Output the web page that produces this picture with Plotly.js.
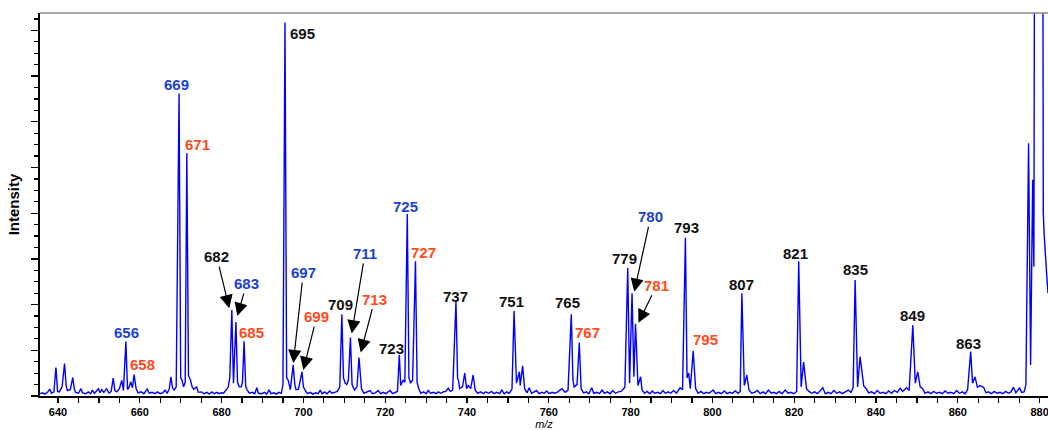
<!DOCTYPE html>
<html>
<head>
<meta charset="utf-8">
<script src="https://cdn.plot.ly/plotly-3.0.1.min.js"></script>
<style>html,body{margin:0;padding:0;background:#fff;}#chart{width:1048px;height:430px;}</style>
</head>
<body>
<div id="chart"></div>
<script>
// ---- Spectrum profile (m/z, relative intensity) ----
const spectrumMz = [
  635.6,636.2,636.8,637.4,638.0,638.4,639.0,639.5,639.9,640.3,641.0,641.6,642.0,642.3,643.0,643.6,644.0,644.3,645.0,645.6,
  646.0,646.8,647.4,648.0,648.4,648.9,649.9,650.3,650.7,651.2,651.9,652.5,653.0,653.5,653.9,654.4,655.0,655.6,656.0,656.6,
  657.0,657.4,657.8,658.2,658.6,659.1,659.6,660.3,661.0,661.8,662.3,663.0,663.7,664.3,665.0,665.6,666.2,666.7,667.2,667.6,
  668.0,668.4,668.9,669.6,670.0,670.3,670.7,671.1,671.5,671.9,672.4,672.8,673.2,673.9,674.3,675.1,675.7,676.4,677.0,677.6,
  678.2,678.8,679.4,680.0,680.5,681.0,681.6,682.0,682.5,682.9,683.5,683.9,684.3,684.8,685.1,685.5,685.9,686.2,686.8,687.5,
  688.1,688.6,689.0,689.8,690.5,691.0,691.6,692.1,692.8,693.4,694.0,694.6,695.0,695.5,695.9,696.3,696.8,697.5,697.9,698.2,
  698.8,699.65,700.0,700.4,701.0,701.7,702.3,703.0,703.6,704.1,704.6,705.2,705.8,706.4,707.0,707.6,708.3,708.9,709.4,709.8,
  710.2,710.6,711.0,711.5,711.9,712.5,713.1,713.6,714.0,714.2,714.8,715.4,716.3,716.9,717.6,718.3,718.9,719.5,720.2,720.7,
  721.2,721.8,722.4,723.0,723.45,723.8,724.4,724.8,725.4,725.8,726.2,726.7,727.4,727.8,728.2,728.7,729.4,730.0,730.5,731.1,
  731.8,732.4,733.0,733.6,734.2,734.8,735.4,735.9,736.5,737.3,737.7,737.9,738.2,738.9,739.45,739.9,740.3,740.9,741.5,742.0,
  742.6,743.3,744.0,744.6,745.3,746.0,746.6,747.3,748.0,748.5,749.1,749.7,750.3,751.0,751.5,751.9,752.1,752.8,753.0,753.6,
  754.1,754.7,755.2,755.8,756.4,757.0,757.6,758.2,758.9,759.5,760.1,760.8,761.5,762.2,763.2,764.0,764.7,765.5,765.9,766.2,
  766.9,767.45,767.9,768.5,769.2,769.8,770.5,771.0,771.7,772.4,773.0,773.6,774.3,775.0,775.6,776.3,777.0,777.7,778.6,779.3,
  779.75,780.35,780.8,781.2,781.8,782.45,782.8,783.4,784.0,784.7,785.3,785.9,786.6,787.3,787.9,788.5,789.2,789.8,790.5,791.2,
  792.1,792.7,793.4,793.8,794.2,794.6,795.3,795.9,796.5,797.2,797.9,798.5,799.2,800.2,800.8,801.5,802.2,802.9,803.6,804.2,
  804.9,805.6,806.3,806.8,807.2,807.8,808.4,808.95,809.6,810.3,811.0,811.7,812.4,813.0,813.7,814.4,815.0,815.7,816.3,817.0,
  817.8,818.5,819.2,819.9,820.6,821.1,821.7,822.3,823.0,823.6,824.3,825.0,825.7,826.4,827.0,827.6,828.3,829.0,829.7,830.4,
  831.1,831.8,832.5,833.2,833.9,834.4,834.9,835.5,836.1,836.7,837.0,837.6,838.2,838.9,839.6,840.3,841.0,841.7,842.4,843.1,
  843.8,844.5,845.2,845.9,846.5,847.0,847.5,848.1,849.0,849.6,850.2,850.8,851.4,852.0,852.7,853.4,854.1,854.8,855.5,856.2,
  856.9,857.6,858.3,859.0,859.7,860.4,861.1,861.8,862.4,863.15,863.6,864.2,864.8,865.4,866.3,866.9,867.5,868.2,868.9,869.6,
  870.3,871.0,871.7,872.4,873.0,873.6,874.2,875.1,875.6,876.2,876.65,877.3,877.8,878.3,878.6,878.85,880.7,880.9,881.1,881.7,
  882.05
];
const spectrumIntensity = [
  0.5,0.7,0.4,0.8,1.5,0.6,0.9,6.2,1.0,0.9,2.0,7.1,2.2,1.2,1.4,4.0,1.5,0.8,0.6,1.6,
  0.7,0.5,0.9,0.5,1.3,0.6,1.6,0.7,1.4,0.8,1.6,0.6,1.0,3.9,1.2,0.9,1.6,3.4,1.2,11.9,
  1.4,2.0,3.1,1.8,4.7,1.6,0.7,0.9,0.5,1.5,0.6,0.8,0.5,0.9,0.5,0.7,1.3,0.6,1.5,4.2,
  1.8,1.3,2.0,66.2,4.0,3.5,2.0,3.0,53.1,4.5,3.5,2.0,1.5,2.0,0.8,0.9,0.5,0.8,0.4,0.9,
  0.5,0.8,0.5,0.7,0.6,1.3,1.9,4.0,18.8,2.8,16.2,3.0,2.0,2.0,3.0,12.0,2.0,1.4,0.6,0.8,
  0.5,1.8,0.6,0.5,0.8,0.4,1.3,0.5,0.7,0.4,0.8,0.6,2.5,81.7,4.0,3.4,1.4,6.8,2.5,1.4,
  1.5,5.3,2.0,1.3,0.5,0.8,0.4,0.7,0.5,1.3,0.5,0.9,0.5,1.1,0.6,0.8,1.0,2.0,17.9,4.0,
  2.8,2.5,3.5,12.8,2.5,1.3,2.0,8.4,2.5,1.6,0.6,0.8,1.2,0.5,0.7,1.2,0.5,0.8,0.5,0.9,
  1.2,0.5,0.7,1.0,9.0,2.3,3.5,3.0,39.8,4.0,2.8,3.5,29.5,3.0,1.6,0.6,0.9,0.5,1.2,0.6,
  0.8,0.5,0.9,0.6,0.9,1.0,1.7,1.0,1.3,20.6,3.8,3.5,1.6,2.0,5.0,1.6,2.3,1.6,4.6,1.3,
  0.6,0.9,0.5,0.9,0.6,1.0,0.5,0.8,0.5,1.3,0.5,0.9,0.6,1.5,18.6,3.5,2.8,5.3,2.3,6.6,
  1.6,0.7,1.8,0.6,0.9,1.2,0.5,0.8,0.6,1.1,0.5,0.8,0.6,0.9,1.6,0.8,1.3,17.9,3.5,2.0,
  2.5,11.7,1.6,0.7,0.9,0.5,1.8,0.6,0.8,0.5,1.3,0.6,0.9,0.5,1.2,0.6,0.9,1.0,1.9,28.0,
  2.8,22.5,4.2,15.8,2.3,4.2,1.3,0.6,1.0,0.5,1.1,0.6,0.8,0.5,1.2,0.6,0.9,0.6,1.2,0.6,
  1.8,1.4,34.6,4.0,5.0,1.6,9.9,1.6,0.6,1.0,0.5,0.8,0.6,1.3,0.5,0.8,0.5,1.1,0.5,0.8,
  0.6,1.1,0.6,1.0,22.5,2.3,4.6,1.3,0.6,0.8,1.2,0.5,0.9,0.5,1.3,0.6,0.8,0.5,1.0,0.5,
  1.3,0.6,0.8,0.5,1.0,29.5,2.0,7.4,1.6,1.0,0.6,0.9,0.5,1.2,1.8,0.5,0.8,0.5,1.2,0.6,
  0.9,0.5,1.0,1.3,0.8,1.8,25.4,2.0,8.6,3.5,2.2,1.6,0.7,0.9,0.5,1.2,0.6,0.8,0.5,1.1,
  0.6,1.2,0.8,1.7,1.0,1.4,1.8,1.2,15.5,2.8,5.3,2.0,1.6,0.6,0.9,0.5,1.0,0.6,0.8,0.5,
  1.1,0.6,0.8,0.5,1.2,0.6,0.9,0.5,1.4,9.7,2.8,4.2,1.9,2.3,1.9,0.7,0.9,0.5,1.0,0.6,
  0.8,0.5,1.0,0.6,0.9,1.9,0.7,1.8,0.8,0.9,2.5,55.3,6.8,47.3,28.3,150,150,40,35.6,26.9,
  22.5
];

// ---- Peak labels (m/z text) and their ion series ----
const ionLabels = ['656','658','669','671','682','683','685','695','697','699','709','711','713','723','725',
                   '727','737','751','765','767','779','780','781','793','795','807','821','835','849','863'];
const ionSeries = ['A','B','A','B','C','A','B','C','A','B','C','A','B','C','A',
                   'B','C','C','C','B','C','A','B','C','B','C','C','C','C','C'];

// ---- Layout: styling and label placement ----
const seriesColor = {A: '#1a3fd0', B: '#ff4a1a', C: '#111111'};
// label placement: plain labels as [x, y] in data units; arrowed labels as [tipX, tipY, ax, ay(px)]
const labelPlace = [
  [656.63,14.0],[660.54,7.0],[668.85,68.05],[673.99,55.1],[681.88,19.2,-12.6,-51.6],[683.84,17.5,9.4,-32.7],
  [687.43,14.0],[699.66,79.4],[697.53,7.2,10,-90.6],[699.98,5.7,13.4,-53.3],[708.95,20.1],[711.81,13.7,13.3,-80],
  [714.0,9.5,14.3,-53.4],[721.42,10.5],[724.84,41.4],[729.24,31.5],[737.07,21.7],[750.76,20.6],[764.45,20.4],
  [769.58,14.0],[778.39,30.0],[780.9,22.8,16.4,-75],[781.9,16.0,18.4,-37.7],[793.55,36.8],[798.19,12.3],
  [806.99,24.3],[820.2,31.1],[834.87,27.6],[848.8,17.7],[862.5,11.4]
];

const FONT = 'Liberation Sans, Arial, Helvetica, sans-serif';

const annotations = ionLabels.map((t, i) => {
  const p = labelPlace[i];
  const base = {
    text: t, xref: 'x', yref: 'y', x: p[0], y: p[1],
    font: {family: FONT, size: 15, weight: 'bold', color: seriesColor[ionSeries[i]]}
  };
  if (p.length === 4) {
    return Object.assign(base, {
      showarrow: true, ax: p[2], ay: p[3], axref: 'pixel', ayref: 'pixel',
      arrowhead: 2, arrowsize: 2.2, arrowwidth: 1.2, arrowcolor: '#000', standoff: 0, startstandoff: 0
    });
  }
  return Object.assign(base, {showarrow: false, xanchor: 'center', yanchor: 'middle'});
});

const trace = {
  x: spectrumMz, y: spectrumIntensity, type: 'scatter', mode: 'lines',
  line: {color: '#0000ff', width: 1.4}, hoverinfo: 'x+y', showlegend: false
};

const layout = {
  width: 1048, height: 430,
  margin: {l: 40, r: 0, t: 13, b: 34, pad: 0},
  paper_bgcolor: '#ffffff', plot_bgcolor: '#ffffff',
  font: {family: FONT, color: '#000'},
  xaxis: {
    range: [635.6, 882.05], autorange: false,
    tick0: 0, dtick: 20, ticks: 'outside', ticklen: 5, tickwidth: 1.3, tickcolor: '#000',
    minor: {dtick: 5, ticks: 'outside', ticklen: 5, tickwidth: 1.2, tickcolor: '#000', showgrid: false},
    showline: true, linecolor: '#000', linewidth: 1.6, mirror: false,
    showgrid: false, zeroline: false, ticklabeloverflow: 'allow',
    tickfont: {family: FONT, size: 11, weight: 'bold', color: '#000'},
    title: {text: '<i>m/z</i>', font: {family: FONT, size: 11, color: '#000'}, standoff: 3}
  },
  yaxis: {
    range: [0, 83.8], autorange: false,
    tick0: 0, dtick: 10, ticks: 'outside', ticklen: 7, tickwidth: 1.3, tickcolor: '#000',
    minor: {dtick: 2.5, ticks: 'outside', ticklen: 4, tickwidth: 1.2, tickcolor: '#000', showgrid: false},
    showticklabels: false,
    showline: true, linecolor: '#000', linewidth: 1.6,
    showgrid: false, zeroline: false,
    title: {text: 'Intensity', font: {family: FONT, size: 15, weight: 'bold', color: '#000'}, standoff: 8}
  },
  shapes: [
    {type: 'line', xref: 'paper', yref: 'paper', x0: 0, x1: 1, y0: 1, y1: 1, line: {color: '#8a8a8a', width: 1.5}}
  ],
  annotations: annotations
};

Plotly.newPlot('chart', [trace], layout, {displayModeBar: false, staticPlot: true});
</script>
</body>
</html>
